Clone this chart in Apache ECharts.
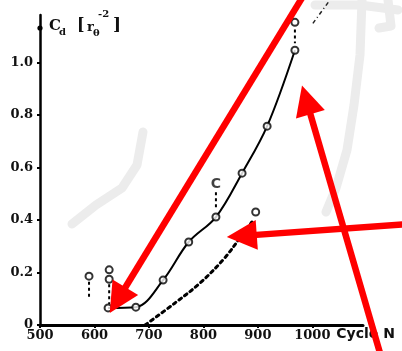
<!DOCTYPE html>
<html>
<head>
<meta charset="utf-8">
<script src="https://cdn.jsdelivr.net/npm/echarts@6/dist/echarts.min.js"></script>
<style>
html, body { margin: 0; padding: 0; background: #fff; }
#mainChart { width: 402px; height: 351px; }
</style>
</head>
<body>
<div id="mainChart"></div>
<script>
// x = Cycle N, y = Cd [r_theta^-2]
var xTicks = [500, 600, 700, 800, 900, 1000];
var yTicks = [0, 0.2, 0.4, 0.6, 0.8, 1.0];

// solid curve with open circles
var solidCurve = [[625, 0.065], [676, 0.068], [726, 0.171], [773, 0.316], [823, 0.411], [871, 0.578], [917, 0.757], [968, 1.046]];
// dotted curve
var dottedCurve = [[693, 0.0], [748, 0.084], [794, 0.16], [839, 0.255], [870, 0.34], [889, 0.392]];
// single circles off the curves
var loosePoints = [[968, 1.152], [590, 0.186], [627, 0.21], [627, 0.174], [896, 0.43]];
// short dashed stems under the loose points
var stems = [
    [[968, 1.125], [968, 1.072]],
    [[590, 0.165], [590, 0.106]],
    [[627, 0.155], [627, 0.08]],
    [[823, 0.505], [823, 0.437]]
];
// faint dash-dot line at top right
var upperDash = [[1001, 1.148], [1032, 1.236]];
var labelC = [823, 0.536];

// red arrows drawn on the scan (data units, from tail to tip)
var arrows = [
    {from: [981, 1.245], to: [628, 0.046]},
    {from: [1124, -0.105], to: [981, 0.912]},
    {from: [1172, 0.384], to: [843, 0.335]}
];

var myChart = echarts.init(document.getElementById('mainChart'));

var labelFont = {fontFamily: 'DejaVu Serif', fontWeight: 'bold', fontSize: 13, color: '#111'};

var seriesList = [];
seriesList.push({
    type: 'line',
    data: solidCurve,
    smooth: 0.35,
    symbol: 'none',
    lineStyle: {color: '#000', width: 2},
    z: 3
});
seriesList.push({
    type: 'line',
    data: dottedCurve,
    smooth: 0.35,
    symbol: 'none',
    lineStyle: {color: '#000', width: 3, type: [3, 4], cap: 'round'},
    z: 3
});
for (var i = 0; i < stems.length; i++) {
    seriesList.push({
        type: 'line',
        data: stems[i],
        symbol: 'none',
        lineStyle: {color: '#000', width: 2, type: [3, 3]},
        z: 3
    });
}
seriesList.push({
    type: 'line',
    data: upperDash,
    symbol: 'none',
    clip: false,
    lineStyle: {color: '#222', width: 1.5, type: [4, 3, 1, 3]},
    z: 3
});
seriesList.push({
    type: 'scatter',
    data: solidCurve.concat(loosePoints),
    symbol: 'circle',
    symbolSize: 7,
    itemStyle: {color: '#fff', borderColor: '#000', borderWidth: 2},
    z: 4
});
seriesList.push({
    type: 'scatter',
    data: [labelC],
    symbolSize: 0,
    label: {show: true, position: 'inside', formatter: 'C',
        fontFamily: 'DejaVu Sans', fontWeight: 'bold', fontSize: 14, color: '#111'},
    z: 4
});

var option = {
    animation: false,
    backgroundColor: '#fff',
    grid: {left: 40, right: 39, top: 15, bottom: 26},
    xAxis: {
        type: 'value',
        min: xTicks[0],
        max: 1093,
        interval: xTicks[1] - xTicks[0],
        splitLine: {show: false},
        axisLine: {lineStyle: {color: '#000', width: 3}},
        axisTick: {show: true, length: 3, lineStyle: {color: '#000', width: 2}},
        axisLabel: Object.assign({margin: 4, showMaxLabel: false,
            formatter: function (v) { return String(v); }}, labelFont),
        name: 'Cycle N',
        nameLocation: 'end',
        nameGap: -28,
        nameTextStyle: {fontFamily: 'DejaVu Sans', fontWeight: 'bold', fontSize: 14, color: '#111',
            align: 'left', verticalAlign: 'top', padding: [2, 0, 0, 0]}
    },
    yAxis: {
        type: 'value',
        min: yTicks[0],
        max: 1.18,
        interval: yTicks[1] - yTicks[0],
        splitLine: {show: false},
        axisLine: {lineStyle: {color: '#000', width: 2.5}},
        axisTick: {show: true, length: 3, lineStyle: {color: '#000', width: 2}},
        axisLabel: Object.assign({margin: 7, showMaxLabel: false,
            formatter: function (v) { return v === 0 ? '0' : v.toFixed(1); }}, labelFont)
    },
    series: seriesList
};
myChart.setOption(option);

// light grey smudges of the scan
var smudges = [
    [[143, 132], [137, 165], [122, 188], [96, 205], [72, 224]],
    [[362, 0], [360, 55], [354, 105], [347, 150], [336, 188], [326, 212]],
    [[315, 5], [360, 5], [398, 10]],
    [[388, 0], [391, 26], [379, 28]]
];
var graphics = [];
smudges.forEach(function (pts) {
    graphics.push({
        type: 'polyline', z: 0, silent: true,
        shape: {points: pts},
        style: {stroke: '#ececec', lineWidth: 9, lineCap: 'round', lineJoin: 'round', fill: null}
    });
});

// y axis title  Cd [r_theta^-2]
var tf = 'DejaVu Serif';
var titleParts = [
    {t: 'C', x: 49, y: 19, s: 15},
    {t: 'd', x: 59, y: 27, s: 10},
    {t: '[', x: 77, y: 18, s: 16},
    {t: 'r', x: 87, y: 21, s: 13},
    {t: 'θ', x: 93, y: 28, s: 10},
    {t: '-2', x: 98, y: 9, s: 10},
    {t: ']', x: 113, y: 17, s: 17}
];
titleParts.forEach(function (p) {
    graphics.push({
        type: 'text', left: p.x, top: p.y, z: 5,
        style: {text: p.t, fontFamily: tf, fontWeight: 'bold', fontSize: p.s, fill: '#111'}
    });
});
// small dot near the top of the y axis
graphics.push({type: 'circle', z: 5, shape: {cx: 40, cy: 28, r: 2.6}, style: {fill: '#000'}});

// red arrows
arrows.forEach(function (a) {
    var p0 = myChart.convertToPixel({gridIndex: 0}, a.from);
    var p1 = myChart.convertToPixel({gridIndex: 0}, a.to);
    var dx = p1[0] - p0[0], dy = p1[1] - p0[1];
    var len = Math.sqrt(dx * dx + dy * dy);
    var ux = dx / len, uy = dy / len;
    var headLen = 30, headHalf = 15;
    var bx = p1[0] - ux * headLen, by = p1[1] - uy * headLen;
    graphics.push({
        type: 'line', z: 10,
        shape: {x1: p0[0], y1: p0[1], x2: bx + ux * 4, y2: by + uy * 4},
        style: {stroke: '#ff0000', lineWidth: 6.5}
    });
    graphics.push({
        type: 'polygon', z: 10,
        shape: {points: [[p1[0], p1[1]], [bx - uy * headHalf, by + ux * headHalf], [bx + uy * headHalf, by - ux * headHalf]]},
        style: {fill: '#ff0000'}
    });
});

myChart.setOption({graphic: graphics});
</script>
</body>
</html>
